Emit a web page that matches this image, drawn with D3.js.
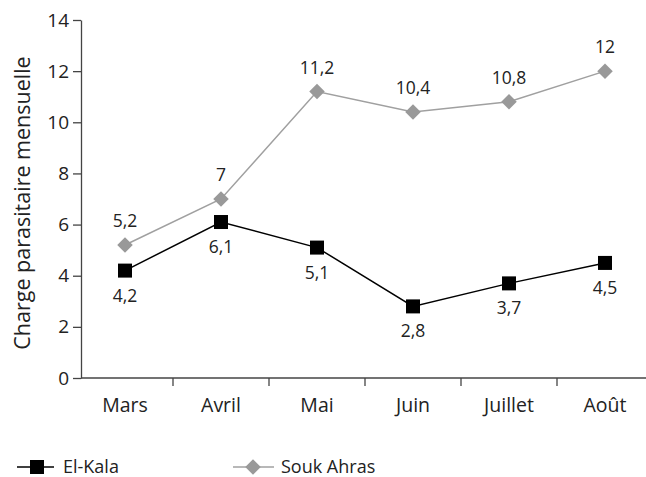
<!DOCTYPE html>
<html>
<head>
<meta charset="utf-8">
<script src="https://cdn.jsdelivr.net/npm/d3@7"></script>
<style>
  html, body { margin: 0; padding: 0; background: #fff; }
  svg text { font-family: "Open Sans", "Noto Sans", sans-serif; fill: #222; }
</style>
</head>
<body>
<svg id="chart" width="646" height="477"></svg>
<script>
// Monthly parasite load per site
const months = ["Mars", "Avril", "Mai", "Juin", "Juillet", "Août"];
const elKala = [4.2, 6.1, 5.1, 2.8, 3.7, 4.5];
const soukAhras = [5.2, 7, 11.2, 10.4, 10.8, 12];
const yTicks = [0, 2, 4, 6, 8, 10, 12, 14];
const seriesNames = ["El-Kala", "Souk Ahras"];

const svg = d3.select("#chart");
const axisColor = "#444";
const fmt = v => String(v).replace(".", ",");

const x = d3.scaleBand().domain(months).range([77, 653]);
const y = d3.scaleLinear().domain([0, 14]).range([378, 20]);
const cx = m => x(m) + x.bandwidth() / 2;

// Y axis
const yAxis = svg.append("g")
  .attr("transform", "translate(81,0)")
  .call(d3.axisLeft(y).tickValues(yTicks).tickSize(8).tickSizeOuter(0).tickPadding(4));
yAxis.select(".domain").attr("stroke", axisColor).attr("stroke-width", 1.3);
yAxis.selectAll(".tick line").attr("stroke", axisColor).attr("stroke-width", 1.3);
yAxis.selectAll(".tick text").attr("font-size", 19).attr("fill", "#222")
  .style("font-family", "'Open Sans', 'Noto Sans', sans-serif");

// X axis: ticks sit between categories
const xAxisG = svg.append("g").attr("transform", "translate(0,378)");
xAxisG.append("line")
  .attr("x1", 81).attr("x2", 653).attr("y1", 0).attr("y2", 0)
  .attr("stroke", axisColor).attr("stroke-width", 1.3);
xAxisG.selectAll("line.sep")
  .data(months.slice(1))
  .join("line")
  .attr("class", "sep")
  .attr("x1", m => x(m)).attr("x2", m => x(m))
  .attr("y1", 0).attr("y2", 8)
  .attr("stroke", axisColor).attr("stroke-width", 1.3);
xAxisG.selectAll("text")
  .data(months)
  .join("text")
  .attr("x", m => cx(m))
  .attr("y", 34)
  .attr("text-anchor", "middle")
  .attr("font-size", 19.5)
  .text(m => m);

// Y axis title
svg.append("text")
  .attr("transform", "translate(30,203) rotate(-90)")
  .attr("text-anchor", "middle")
  .attr("font-size", 21.5)
  .text("Charge parasitaire mensuelle");

const line = d3.line().x((d, i) => cx(months[i])).y(d => y(d));

// Souk Ahras
svg.append("path").datum(soukAhras)
  .attr("d", line).attr("fill", "none")
  .attr("stroke", "#a0a0a0").attr("stroke-width", 1.5);
const diamond = d3.symbol().type(d3.symbolSquare).size(120);
svg.selectAll("path.sa")
  .data(soukAhras)
  .join("path")
  .attr("class", "sa")
  .attr("d", diamond)
  .attr("transform", (d, i) => `translate(${cx(months[i])},${y(d)}) rotate(45)`)
  .attr("fill", "#999");
svg.selectAll("text.sa")
  .data(soukAhras)
  .join("text")
  .attr("class", "sa")
  .attr("x", (d, i) => cx(months[i]))
  .attr("y", d => y(d) - 18)
  .attr("text-anchor", "middle")
  .attr("font-size", 17.5)
  .text(d => fmt(d));

// El-Kala
svg.append("path").datum(elKala)
  .attr("d", line).attr("fill", "none")
  .attr("stroke", "#000").attr("stroke-width", 1.5);
svg.selectAll("rect.ek")
  .data(elKala)
  .join("rect")
  .attr("class", "ek")
  .attr("x", (d, i) => cx(months[i]) - 7)
  .attr("y", d => y(d) - 7)
  .attr("width", 14).attr("height", 14)
  .attr("fill", "#000");
svg.selectAll("text.ek")
  .data(elKala)
  .join("text")
  .attr("class", "ek")
  .attr("x", (d, i) => cx(months[i]))
  .attr("y", d => y(d) + 31)
  .attr("text-anchor", "middle")
  .attr("font-size", 17.5)
  .text(d => fmt(d));

// Legend
const legendY = 467;
const leg = svg.append("g");
leg.append("line").attr("x1", 17).attr("x2", 54).attr("y1", legendY).attr("y2", legendY)
  .attr("stroke", "#000").attr("stroke-width", 1.5);
leg.append("rect").attr("x", 30).attr("y", legendY - 7).attr("width", 14).attr("height", 14).attr("fill", "#000");
leg.append("text").attr("x", 63).attr("y", legendY + 6).attr("font-size", 18).text(seriesNames[0]);
leg.append("line").attr("x1", 233).attr("x2", 274).attr("y1", legendY).attr("y2", legendY)
  .attr("stroke", "#a0a0a0").attr("stroke-width", 1.5);
leg.append("path").attr("d", diamond)
  .attr("transform", `translate(253,${legendY}) rotate(45)`).attr("fill", "#999");
leg.append("text").attr("x", 281).attr("y", legendY + 6).attr("font-size", 18).text(seriesNames[1]);
</script>
</body>
</html>
